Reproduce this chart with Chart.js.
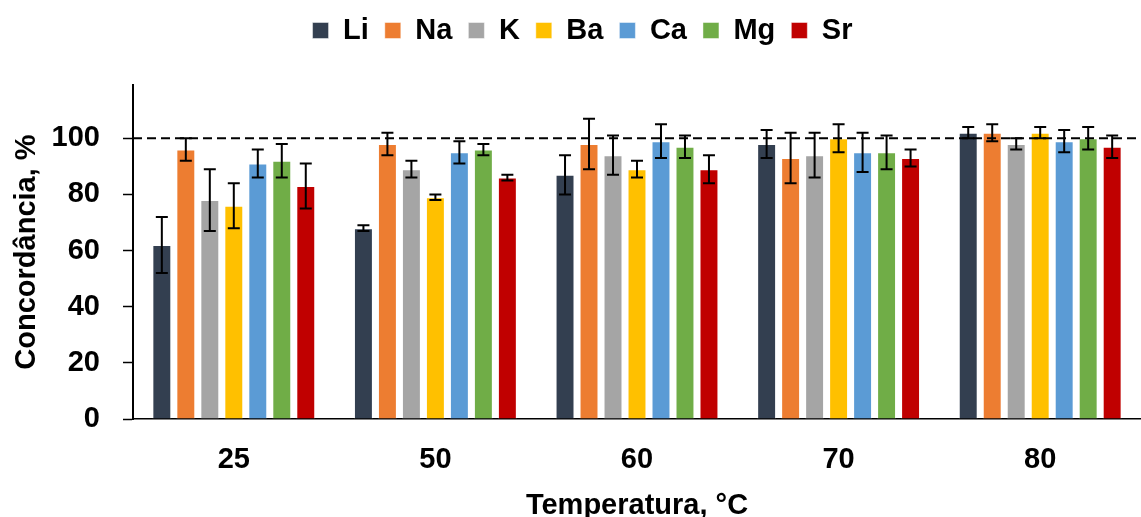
<!DOCTYPE html>
<html>
<head>
<meta charset="utf-8">
<script src="https://cdn.jsdelivr.net/npm/chart.js@4"></script>
<style>
  body { margin: 0; background: #fff; }
  #wrap { width: 1141px; height: 517px; }
</style>
</head>
<body>
<div id="wrap"><canvas id="grafic" width="1141" height="517"></canvas></div>
<script>
// dades
const temperaturas = ["25", "50", "60", "70", "80"];
const li = [62, 68, 87, 98, 102];
const liErr = [10, 1, 7, 5, 2];
const na = [96, 98, 98, 93, 102];
const naErr = [4, 4, 9, 9, 3];
const k = [78, 89, 94, 94, 98];
const kErr = [11, 3, 7, 8, 2];
const ba = [76, 79, 89, 100, 102];
const baErr = [8, 1, 3, 5, 2];
const ca = [91, 95, 99, 95, 99];
const caErr = [5, 4, 6, 7, 4];
const mg = [92, 96, 97, 95, 100];
const mgErr = [6, 2, 4, 6, 4];
const sr = [83, 86, 89, 93, 97];
const srErr = [8, 1, 5, 3, 4];
const yTicks = [0, 20, 40, 60, 80, 100];
const referencia = 100;

const fonte = "Arial, 'Liberation Sans', sans-serif";

function serie(nom, valors, errs, cor) {
  return {
    label: nom,
    data: valors,
    errors: errs,
    backgroundColor: cor,
    borderColor: "rgba(255,255,255,0.45)",
    borderWidth: 1,
    categoryPercentage: 0.833,
    barPercentage: 0.79
  };
}

// barras de erro
const barrasErro = {
  id: "barrasErro",
  afterDatasetsDraw(chart) {
    let ctx = chart.ctx;
    let y = chart.scales.y;
    ctx.save();
    ctx.strokeStyle = "#000";
    ctx.lineWidth = 2;
    chart.data.datasets.forEach((ds, i) => {
      let meta = chart.getDatasetMeta(i);
      meta.data.forEach((bar, j) => {
        let v = ds.data[j], e = ds.errors[j];
        let yA = y.getPixelForValue(v + e);
        let yB = y.getPixelForValue(v - e);
        let x = bar.x;
        ctx.beginPath();
        ctx.moveTo(x, yA); ctx.lineTo(x, yB);
        ctx.moveTo(x - 6, yA); ctx.lineTo(x + 6, yA);
        ctx.moveTo(x - 6, yB); ctx.lineTo(x + 6, yB);
        ctx.stroke();
      });
    });
    ctx.restore();
  }
};

// linha tracejada dos 100 %
const linha100 = {
  id: "linha100",
  afterDatasetsDraw(chart) {
    let ctx = chart.ctx;
    let area = chart.chartArea;
    let yy = chart.scales.y.getPixelForValue(referencia);
    ctx.save();
    ctx.strokeStyle = "#000";
    ctx.lineWidth = 2;
    ctx.setLineDash([9, 5]);
    ctx.beginPath();
    ctx.moveTo(area.left, yy);
    ctx.lineTo(area.right, yy);
    ctx.stroke();
    ctx.restore();
  }
};

let grafic = new Chart(document.querySelector("#grafic"), {
  type: "bar",
  data: {
    labels: temperaturas,
    datasets: [
      serie("Li", li, liErr, "#333F50"),
      serie("Na", na, naErr, "#ED7D31"),
      serie("K", k, kErr, "#A5A5A5"),
      serie("Ba", ba, baErr, "#FFC000"),
      serie("Ca", ca, caErr, "#5B9BD5"),
      serie("Mg", mg, mgErr, "#70AD47"),
      serie("Sr", sr, srErr, "#C00000")
    ]
  },
  options: {
    responsive: false,
    animation: false,
    layout: { padding: { top: 0, right: 0, bottom: 0, left: 24 } },
    plugins: {
      tooltip: { enabled: false },
      legend: {
        position: "top",
        labels: {
          color: "#000",
          font: { family: fonte, size: 29, weight: "bold" },
          boxWidth: 16,
          boxHeight: 16,
          padding: 16
        }
      },
      // espai buit entre la llegenda i el gràfic
      subtitle: {
        display: true,
        text: "",
        position: "top",
        weight: 500,
        padding: 0,
        font: { size: 30, lineHeight: 1 }
      }
    },
    scales: {
      x: {
        grid: { display: false, drawTicks: false },
        border: { display: true, color: "#000", width: 1.5 },
        ticks: { color: "#000", padding: 24, font: { family: fonte, size: 29, weight: "bold" } },
        title: {
          display: true,
          text: "Temperatura, °C",
          color: "#000",
          padding: { top: 0, bottom: -6 },
          font: { family: fonte, size: 29, weight: "bold" }
        },
        afterFit(scale) { scale.height = 98; }
      },
      y: {
        min: 0,
        max: 119,
        afterBuildTicks(scale) { scale.ticks = yTicks.map(v => ({ value: v })); },
        grid: { drawOnChartArea: false, tickLength: 10, tickColor: "#000", tickWidth: 1.5 },
        border: { display: true, color: "#000", width: 2 },
        ticks: { color: "#000", padding: 23, font: { family: fonte, size: 29, weight: "bold" } },
        title: {
          display: true,
          text: "Concordância, %",
          color: "#000",
          padding: { top: -14, bottom: 0 },
          font: { family: fonte, size: 29, weight: "bold" }
        },
        afterFit(scale) { scale.width = 109; }
      }
    }
  },
  plugins: [barrasErro, linha100]
});
</script>
</body>
</html>
